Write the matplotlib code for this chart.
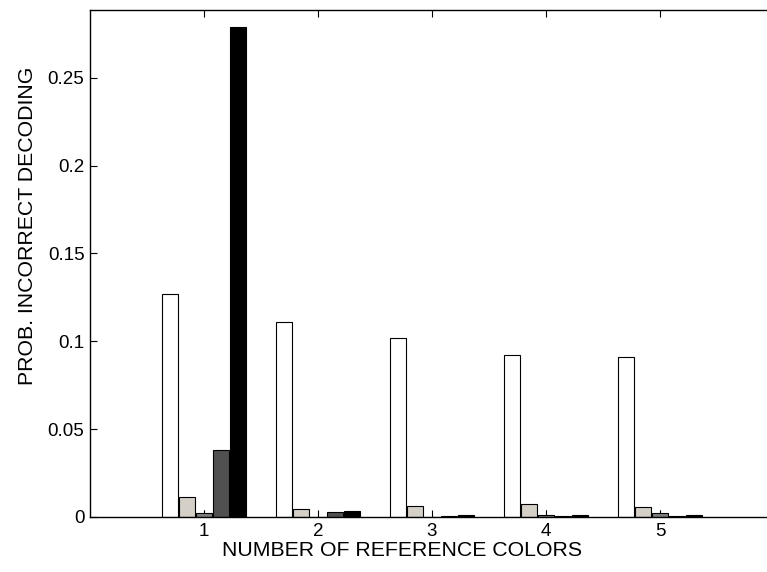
import numpy as np
import matplotlib.pyplot as plt

plt.rcParams['font.family'] = ['Liberation Sans', 'DejaVu Sans']

# decoding error probability per number of reference colours, five schemes
groups = [1, 2, 3, 4, 5]
series_a = [0.127, 0.111, 0.102, 0.092, 0.091]
series_b = [0.0115, 0.0044, 0.0061, 0.0074, 0.0057]
series_c = [0.0025, 0.0, 0.0, 0.001, 0.0023]
series_c_err = [0.0012, 0.0035, 0.0035, 0.003, 0.0015]
series_d = [0.038, 0.0027, 0.0003, 0.0003, 0.0003]
series_e = [0.279, 0.0034, 0.0011, 0.001, 0.001]

colors = ['white', '#d4d0c8', '#808080', '#505050', 'black']
all_series = [series_a, series_b, series_c, series_d, series_e]

fig = plt.figure(figsize=(7.67, 5.72), dpi=100)
ax = fig.add_axes([0.1173, 0.0962, 0.8918, 0.8864])

x = np.array(groups, dtype=float)
step = 0.15
width = 0.14
for i, (vals, col) in enumerate(zip(all_series, colors)):
    offs = (i - 2) * step
    ax.bar(x + offs, vals, width=width, color=col, edgecolor='black',
           linewidth=0.8, zorder=2)
    if i == 2:
        ax.errorbar(x + offs, vals, yerr=[np.zeros(len(vals)), series_c_err],
                    fmt='none', ecolor='black', elinewidth=0.7, capsize=0,
                    zorder=3)

ax.set_xlim(0, 6)
ax.set_ylim(0, 0.2886)
ax.set_xticks(groups)
ax.set_yticks([0, 0.05, 0.1, 0.15, 0.2, 0.25])
ax.set_yticklabels(['0', '0.05', '0.1', '0.15', '0.2', '0.25'])
ax.tick_params(direction='in', length=5, width=0.8, labelsize=13.5,
               top=True, right=True, pad=4)
for s in ax.spines.values():
    s.set_linewidth(1.0)

ax.set_xlabel('NUMBER OF REFERENCE COLORS', fontsize=15.3)
ax.xaxis.set_label_coords(0.456, -0.048)
ax.set_ylabel('PROB. INCORRECT DECODING', fontsize=15.3)
ax.yaxis.set_label_coords(-0.077, 0.574)

fig.savefig('out.png', dpi=100)
